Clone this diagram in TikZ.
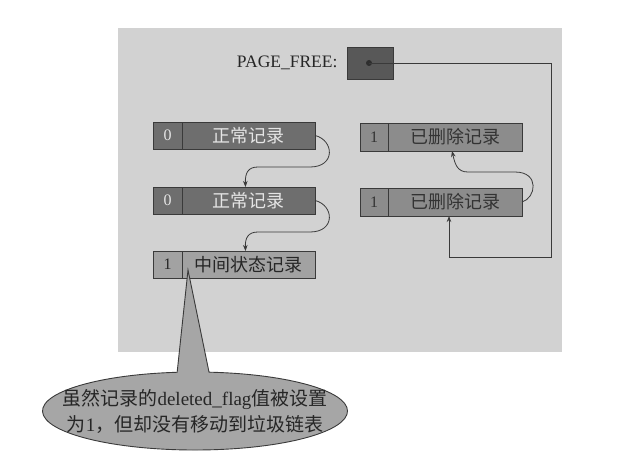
\documentclass[tikz,border=0pt]{standalone}
\usepackage{fontspec}
\setmainfont{Liberation Serif}
\newfontfamily\cjk{Noto Sans CJK SC}
\usetikzlibrary{shapes.callouts,arrows.meta,calc}
\definecolor{bg}{HTML}{D2D2D2}
\definecolor{recdark}{HTML}{6E6E6E}
\definecolor{recmid}{HTML}{8C8C8C}
\definecolor{reclight}{HTML}{A2A2A2}
\definecolor{ink}{HTML}{3A3A3A}
\definecolor{notefill}{HTML}{A6A6A6}
\tikzset{
  cell/.style={draw=ink, line width=0.9pt, inner sep=0pt, outer sep=0pt},
  flagcell/.style={cell, font=\fontsize{16}{16}\selectfont},
  txtcell/.style={cell, font=\cjk\fontsize{18}{18}\selectfont, anchor=west},
  link/.style={draw=ink, line width=0.8pt, -{Stealth[length=6pt,width=4.5pt]}},
}
\begin{document}
\begin{tikzpicture}[x=1pt,y=-1pt]
\useasboundingbox (0,0) rectangle (628,468);
\fill[bg] (118,28) rectangle (562,352);

% PAGE_FREE pointer box
\node[cell, fill=recdark!80!black, minimum width=46pt, minimum height=32pt] (pfbox) at (370,63) {};
\node[anchor=east, font=\fontsize{17.5}{17.5}\selectfont, text=black!85] (pflabel) at ([xshift=-6pt]pfbox.west) {PAGE\_FREE:};
\node[circle, fill=ink!80!black, inner sep=0pt, minimum size=6pt] (dot) at ([xshift=-1pt]pfbox.center) {};

% left column records
\node[flagcell, fill=recdark, text=white!90!black, minimum width=29pt, minimum height=27pt] (f1) at (167.5,135.5) {0};
\node[txtcell, fill=recdark, text=white!90!black, minimum width=133pt, minimum height=27pt] (t1) at (f1.east) {正常记录};
\node[flagcell, fill=recdark, text=white!90!black, minimum width=29pt, minimum height=27pt] (f2) at (167.5,200.5) {0};
\node[txtcell, fill=recdark, text=white!90!black, minimum width=133pt, minimum height=27pt] (t2) at (f2.east) {正常记录};
\node[flagcell, fill=reclight, text=black!85, minimum width=29pt, minimum height=27pt] (f5) at (167.5,264.5) {1};
\node[txtcell, fill=reclight, text=black!85, minimum width=133pt, minimum height=27pt] (t5) at (f5.east) {中间状态记录};

% right column records
\node[flagcell, fill=recmid, text=black!80, minimum width=28pt, minimum height=28pt] (f3) at (374,137) {1};
\node[txtcell, fill=recmid, text=black!80, minimum width=134pt, minimum height=28pt] (t3) at (f3.east) {已删除记录};
\node[flagcell, fill=recmid, text=black!80, minimum width=28pt, minimum height=28pt] (f4) at (374,202) {1};
\node[txtcell, fill=recmid, text=black!80, minimum width=134pt, minimum height=28pt] (t4) at (f4.east) {已删除记录};

% links between normal records
\draw[link] (t1.east) .. controls (334,140) and (336,167) .. (310,167) -- (258,167)
  .. controls (248,167) and (245,173) .. ([xshift=-3pt]t2.north);
\draw[link] (t2.east) .. controls (334,205) and (336,232) .. (310,232) -- (258,232)
  .. controls (248,232) and (245,238) .. ([xshift=-3pt]t5.north);

% link between deleted records
\draw[link] (t4.east) .. controls (536,198) and (540,172) .. (515,172) -- (468,172)
  .. controls (457,172) and (455,164) .. ([xshift=-3pt]t3.south);

% PAGE_FREE chain
\coordinate (corner) at (551,257);
\draw[link] (dot.center) -- (dot -| corner) -- (corner) -| ([xshift=-6pt]t4.south);

% callout
\coordinate (tip) at ([xshift=6pt,yshift=8pt]f5.south east);
\node[ellipse callout, draw=ink, line width=0.9pt, fill=notefill, minimum width=305pt, minimum height=78pt,
      inner sep=0pt, callout absolute pointer={(tip)}, callout pointer arc=12] (note) at (195,411) {};
\node[align=center, font=\fontsize{19}{26}\selectfont, text=black!85, inner sep=0pt] (notetext) at (note.center)
  {{\cjk 虽然记录的}deleted\_flag{\cjk 值被设置}\\{\cjk 为}1{\cjk ，但却没有移动到垃圾链表}};
\end{tikzpicture}
\end{document}
